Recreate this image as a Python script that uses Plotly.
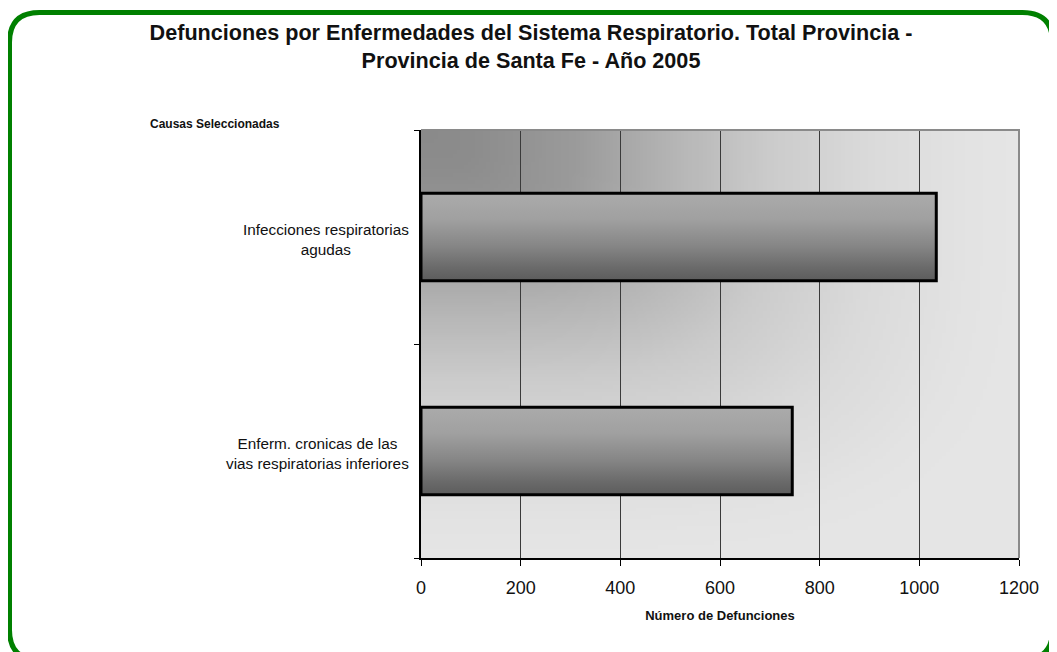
import base64
import struct
import zlib

import plotly.graph_objects as go

# datos
causas = [
    "Infecciones respiratorias<br>agudas",
    "Enferm. cronicas de las<br>vias respiratorias inferiores",
]
defunciones = [1034, 745]
x_ticks = [0, 200, 400, 600, 800, 1000, 1200]

W, H = 1057, 652
OFF = 8  # margen del body de la pagina
L, T = 421 - OFF, 130 - OFF
PW, PH = 598, 428
R, B = W - L - PW, H - T - PH
FONT = "Arial, Liberation Sans, sans-serif"


# coordenadas de pagina -> papel
def px(x):
    return (x - OFF - L) / PW


def py(y):
    return (T + PH - (y - OFF)) / PH


def gray_png(w, h, func):
    rows = b""
    for j in range(h):
        rows += b"\x00" + bytes(func(i / (w - 1), j / (h - 1)) for i in range(w))

    def chunk(tag, data):
        c = struct.pack(">I", len(data)) + tag + data
        return c + struct.pack(">I", zlib.crc32(tag + data) & 0xFFFFFFFF)

    png = b"\x89PNG\r\n\x1a\n"
    png += chunk(b"IHDR", struct.pack(">IIBBBBB", w, h, 8, 0, 0, 0, 0))
    png += chunk(b"IDAT", zlib.compress(rows, 9))
    png += chunk(b"IEND", b"")
    return "data:image/png;base64," + base64.b64encode(png).decode()


# fondo del area de trazado: degradado desde la esquina superior izquierda
stops = [(0, 138), (0.08, 140), (0.25, 154), (0.42, 181), (0.58, 203),
         (0.75, 218), (0.92, 227), (1.0, 229)]


def bg(u, v):
    t = min(1.0, (u ** 4 + v ** 4) ** 0.25)
    for (a, ca), (b, cb) in zip(stops, stops[1:]):
        if t <= b:
            return int(round(ca + (cb - ca) * (t - a) / (b - a)))
    return stops[-1][1]


bg_src = gray_png(160, 115, bg)

fig = go.Figure()

bar_w = 0.41
for i, (causa, n) in enumerate(zip(causas, defunciones)):
    y0, y1 = i - bar_w / 2, i + bar_w / 2
    fig.add_trace(go.Scatter(
        x=[0, n, n, 0, 0], y=[y0, y0, y1, y1, y0],
        mode="lines", fill="toself",
        fillgradient=dict(type="vertical", colorscale=[
            [0, "#5c5c5c"], [0.15, "#6a6a6a"], [0.4, "#868686"],
            [0.7, "#a0a0a0"], [1, "#ababab"]]),
        line=dict(color="black", width=3),
        hoveron="fills", hoverinfo="text",
        text=f"{causa.replace('<br>', ' ')}: {n}",
        showlegend=False,
    ))

# borde verde redondeado (coordenadas de pagina)
x0, x1, y0b, y1b, r = 9.5, 1052.5, 12.5, 660, 30
pts = [("M", x0 + r, y0b), ("L", x1 - r, y0b), ("Q", x1, y0b, x1, y0b + r),
       ("L", x1, y1b - r), ("Q", x1, y1b, x1 - r, y1b), ("L", x0 + r, y1b),
       ("Q", x0, y1b, x0, y1b - r), ("L", x0, y0b + r), ("Q", x0, y0b, x0 + r, y0b)]
path = ""
for p in pts:
    coords = p[1:]
    path += p[0] + " " + " ".join(
        f"{px(coords[k]):.5f},{py(coords[k + 1]):.5f}" for k in range(0, len(coords), 2)) + " "
path += "Z"

fig.update_layout(
    width=W, height=H,
    margin=dict(l=L, r=R, t=T, b=B),
    paper_bgcolor="white", plot_bgcolor="#e3e3e3",
    font=dict(family=FONT, color="#111111"),
    title=dict(
        text="<b>Defunciones por Enfermedades del Sistema Respiratorio. Total Provincia -"
             "<br>Provincia de Santa Fe - Año 2005</b>",
        x=(531 - OFF) / W, xanchor="center", y=1 - 32 / H, yanchor="top",
        font=dict(size=21.6, color="#111111"),
    ),
    images=[dict(source=bg_src, xref="paper", yref="paper", x=0, y=1,
                 sizex=1, sizey=1, sizing="stretch", layer="below",
                 xanchor="left", yanchor="top")],
    shapes=[
        dict(type="path", xref="paper", yref="paper", path=path,
             line=dict(color="#008000", width=5), layer="above"),
        dict(type="path", xref="paper", yref="paper", path="M 0,1 L 1,1 L 1,0",
             line=dict(color="#8a8a8a", width=2), layer="above"),
    ],
    xaxis=dict(
        range=[0, 1200], tickvals=x_ticks, ticks="outside", ticklen=6,
        tickcolor="black", showline=True, linecolor="black", linewidth=2,
        showgrid=True, gridcolor="#3a3a3a", gridwidth=1, zeroline=False,
        tickfont=dict(size=18, color="#111111"), ticklabelstandoff=6,
        title=dict(text="<b>Número de Defunciones</b>", font=dict(size=13),
                   standoff=14),
    ),
    yaxis=dict(
        range=[len(causas) - 0.5, -0.5], showline=True, linecolor="black",
        linewidth=2, showgrid=False, zeroline=False, showticklabels=False,
        ticks="", tickvals=list(range(len(causas))),
        minor=dict(tickvals=[k - 0.5 for k in range(len(causas) + 1)],
                   ticks="outside", ticklen=5, tickcolor="black", showgrid=False),
    ),
    annotations=[
        dict(text="<b>Causas Seleccionadas</b>", xref="paper", yref="paper",
             x=px(215), y=py(124), xanchor="center", yanchor="middle",
             showarrow=False, font=dict(size=12)),
    ] + [
        dict(text=c, xref="paper", yref="y", x=px(411), y=i, xanchor="right",
             yanchor="middle", align="center", showarrow=False, yshift=-2,
             font=dict(size=15.3, color="#111111"))
        for i, c in enumerate(causas)
    ],
)

fig.write_html("out.html")
